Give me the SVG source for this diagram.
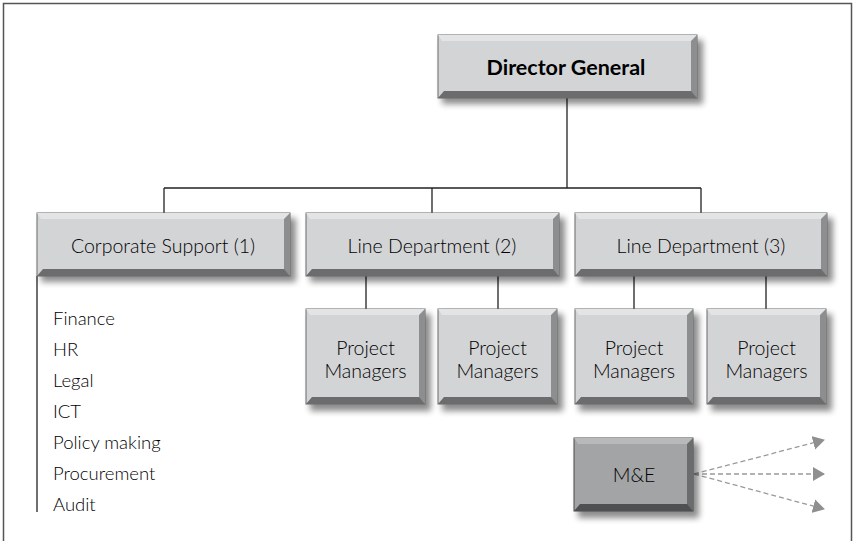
<svg xmlns="http://www.w3.org/2000/svg" width="855" height="541" viewBox="0 0 855 541">
<defs>
<filter id="sh" x="-10%" y="-20%" width="130%" height="160%">
<feGaussianBlur stdDeviation="3"/>
</filter>
<marker id="ah" viewBox="0 0 12 14" refX="11" refY="7" markerWidth="12" markerHeight="15" markerUnits="userSpaceOnUse" orient="auto">
<path d="M0,0 L12,7 L0,14 Z" fill="#8f8f91"/>
</marker>
</defs>
<style>
.frame{fill:#fff;stroke:#555;stroke-width:1.5}
.con{fill:none;stroke:#222;stroke-width:1.3}
.dash{fill:none;stroke:#9a9a9c;stroke-width:1.3;stroke-dasharray:5 3}
.shadow{fill:#000;opacity:0.45;filter:url(#sh)}
.face{fill:#d3d4d6;stroke:#6a6a6a;stroke-width:1}
.face2{fill:#a3a4a6;stroke:#4a4a4a;stroke-width:1}
.hi{fill:#e3e4e5}
.lo{fill:#6c6c6e}
.rt{fill:#8d8e90}
.hi2{fill:#b8b9bb}
.lo2{fill:#4f5052}
.rt2{fill:#6b6c6e}
text{font-family:Lato,"Noto Sans","Liberation Sans",sans-serif;fill:#000;font-weight:300}
.t{font-size:19.5px;text-anchor:middle}
.tb{font-size:21.5px;font-weight:bold;text-anchor:middle}
.l{font-size:18.5px}
</style>
<rect class="frame" x="3.5" y="3.5" width="848" height="545"/>

<g id="connectors">
<path class="con" d="M567,98 V188 M164,188 H701 M164,188 V213 M432,188 V213 M701,188 V213"/>
<path class="con" d="M366,276 V310 M498,276 V310 M634,276 V310 M766,276 V310"/>
<path class="con" d="M37,276 V512"/>
<path class="dash" d="M694,474 L824,440" marker-end="url(#ah)"/>
<path class="dash" d="M694,474 L824,474" marker-end="url(#ah)"/>
<path class="dash" d="M694,474 L824,509" marker-end="url(#ah)"/>
</g>

<g id="director-general">
<rect class="shadow" x="442" y="40" width="261" height="64"/>
<rect class="face" x="438" y="35" width="259" height="63"/>
<polygon class="hi" points="438,35 697,35 693,41 442,41"/>
<polygon class="rt" points="697,35 697,98 691,92 691,41"/>
<polygon class="lo" points="438,98 697,98 691,91 444,91"/>
<text class="tb" x="566" y="75">Director General</text>
</g>

<g id="corporate-support">
<rect class="shadow" x="41" y="218" width="255" height="64"/>
<rect class="face" x="37" y="213" width="253" height="63"/>
<polygon class="hi" points="37,213 290,213 286,219 41,219"/>
<polygon class="rt" points="290,213 290,276 284,270 284,219"/>
<polygon class="lo" points="37,276 290,276 284,269 43,269"/>
<text class="t" x="163" y="253">Corporate Support (1)</text>
</g>

<g id="line-dept-2">
<rect class="shadow" x="310" y="218" width="255" height="64"/>
<rect class="face" x="306" y="213" width="253" height="63"/>
<polygon class="hi" points="306,213 559,213 555,219 310,219"/>
<polygon class="rt" points="559,213 559,276 553,270 553,219"/>
<polygon class="lo" points="306,276 559,276 553,269 312,269"/>
<text class="t" x="432" y="253">Line Department (2)</text>
</g>

<g id="line-dept-3">
<rect class="shadow" x="579" y="218" width="254" height="64"/>
<rect class="face" x="575" y="213" width="252" height="63"/>
<polygon class="hi" points="575,213 827,213 823,219 579,219"/>
<polygon class="rt" points="827,213 827,276 821,270 821,219"/>
<polygon class="lo" points="575,276 827,276 821,269 581,269"/>
<text class="t" x="701" y="253">Line Department (3)</text>
</g>

<g id="pm-1">
<rect class="shadow" x="310" y="314" width="121" height="97"/>
<rect class="face" x="306" y="309" width="119" height="95"/>
<polygon class="hi" points="306,309 425,309 421,315 310,315"/>
<polygon class="rt" points="425,309 425,404 419,398 419,315"/>
<polygon class="lo" points="306,404 425,404 419,397 312,397"/>
<text class="t" x="365.5" y="355">Project</text>
<text class="t" x="365.5" y="378">Managers</text>
</g>

<g id="pm-2">
<rect class="shadow" x="442" y="314" width="121" height="97"/>
<rect class="face" x="438" y="309" width="119" height="95"/>
<polygon class="hi" points="438,309 557,309 553,315 442,315"/>
<polygon class="rt" points="557,309 557,404 551,398 551,315"/>
<polygon class="lo" points="438,404 557,404 551,397 444,397"/>
<text class="t" x="497.5" y="355">Project</text>
<text class="t" x="497.5" y="378">Managers</text>
</g>

<g id="pm-3">
<rect class="shadow" x="579" y="314" width="120" height="97"/>
<rect class="face" x="575" y="309" width="118" height="95"/>
<polygon class="hi" points="575,309 693,309 689,315 579,315"/>
<polygon class="rt" points="693,309 693,404 687,398 687,315"/>
<polygon class="lo" points="575,404 693,404 687,397 581,397"/>
<text class="t" x="634" y="355">Project</text>
<text class="t" x="634" y="378">Managers</text>
</g>

<g id="pm-4">
<rect class="shadow" x="711" y="314" width="121" height="97"/>
<rect class="face" x="707" y="309" width="119" height="95"/>
<polygon class="hi" points="707,309 826,309 822,315 711,315"/>
<polygon class="rt" points="826,309 826,404 820,398 820,315"/>
<polygon class="lo" points="707,404 826,404 820,397 713,397"/>
<text class="t" x="766.5" y="355">Project</text>
<text class="t" x="766.5" y="378">Managers</text>
</g>

<g id="m-and-e">
<rect class="shadow" x="578" y="443" width="121" height="75"/>
<rect class="face2" x="574" y="438" width="119" height="73"/>
<polygon class="hi2" points="574,438 693,438 689,444 578,444"/>
<polygon class="rt2" points="693,438 693,511 687,505 687,444"/>
<polygon class="lo2" points="574,511 693,511 687,504 580,504"/>
<text class="t" x="634" y="482">M&amp;E</text>
</g>

<g id="support-list">
<text class="l" x="53" y="325">Finance</text>
<text class="l" x="53" y="356">HR</text>
<text class="l" x="53" y="387">Legal</text>
<text class="l" x="53" y="418">ICT</text>
<text class="l" x="53" y="449">Policy making</text>
<text class="l" x="53" y="480">Procurement</text>
<text class="l" x="53" y="511">Audit</text>
</g>
</svg>
